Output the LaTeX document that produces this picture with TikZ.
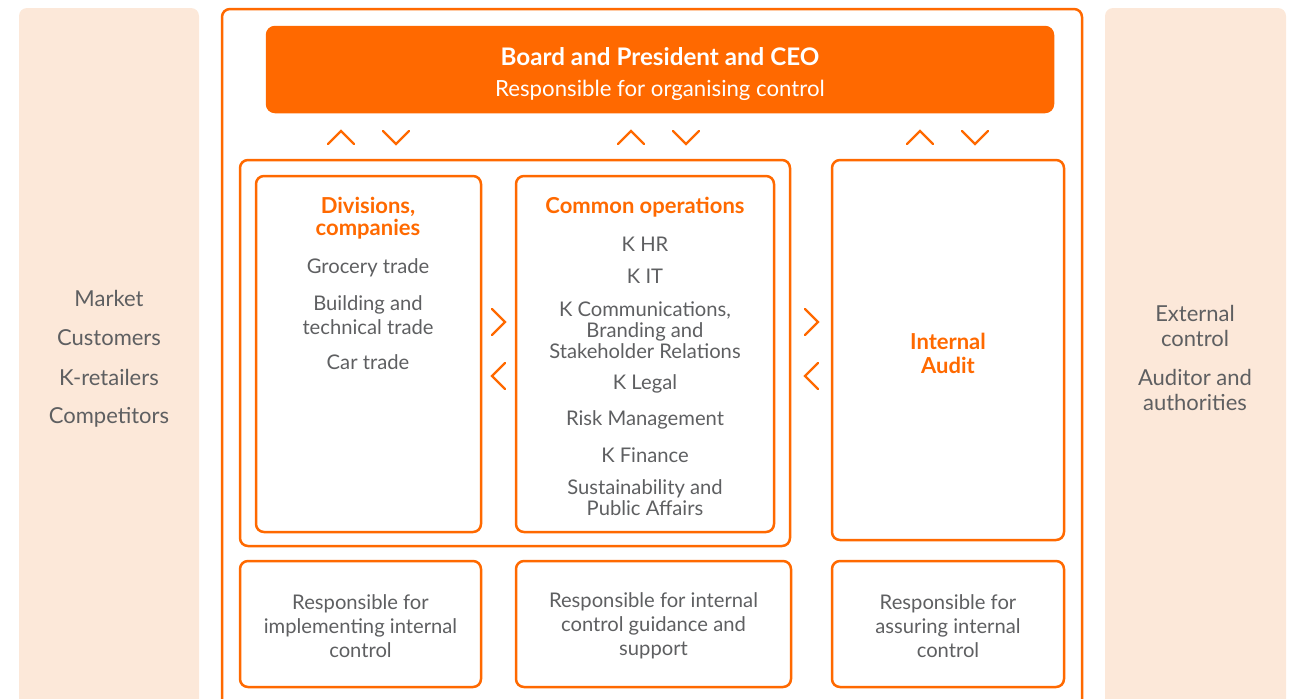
\documentclass[tikz,border=0pt]{standalone}
\usepackage{fontspec}
\setmainfont{Lato}
\definecolor{korange}{HTML}{FF6900}
\definecolor{kpeach}{HTML}{FCE8D9}
\definecolor{kgray}{HTML}{5E5F61}
\tikzset{
  box/.style={draw=korange, line width=1.25pt, rounded corners=4pt, inner sep=0pt},
  panel/.style={fill=kpeach, rounded corners=4pt, inner sep=0pt},
  txt/.style={text=kgray, align=center, font=\fontsize{10.1}{12}\selectfont},
  side/.style={text=kgray, align=center, font=\fontsize{11}{12.5}\selectfont},
  ttl/.style={text=korange, align=center, font=\bfseries\fontsize{11}{11}\selectfont},
  chev/.style={draw=korange, line width=1.2pt, line cap=round, line join=miter}
}
\begin{document}
\begin{tikzpicture}[x=0.5pt, y=-0.5pt]
\clip (0,0) rectangle (1291,698);
% side panels and frame
\node[panel, minimum width=90pt, minimum height=356pt] (leftpanel) at (109,364) {};
\node[panel, minimum width=90.5pt, minimum height=356pt] (rightpanel) at (1195.5,364) {};
\node[box, minimum width=430pt, minimum height=355.5pt] (frame) at (652,364.5) {};
% board
\node[box, fill=korange, minimum width=393pt, minimum height=42.5pt] (board) at (660,69.5) {};
\node[text=white, font=\bfseries\fontsize{12.1}{13}\selectfont] (boardtitle) at (660,57) {Board and President and CEO};
\node[text=white, font=\fontsize{11.1}{12}\selectfont] (boardsub) at (660,90) {Responsible for organising control};
% boxes
\node[box, minimum width=275pt, minimum height=193pt] (group) at (515,353) {};
\node[box, minimum width=112.5pt, minimum height=178pt] (div) at (368.5,354) {};
\node[box, minimum width=129pt, minimum height=178pt] (common) at (645,354) {};
\node[box, minimum width=116pt, minimum height=190pt] (audit) at (948,350) {};
\node[box, minimum width=120.5pt, minimum height=63pt] (implement) at (360.5,624) {};
\node[box, minimum width=137.5pt, minimum height=63pt] (guidance) at (653.5,624) {};
\node[box, minimum width=116pt, minimum height=63pt] (assure) at (948,624) {};
% chevrons
\foreach \x in {341,631,920}{
  \draw[chev] (\x-13,144) -- (\x,131) -- (\x+13,144);
  \draw[chev] (\x+42,131) -- (\x+55,144) -- (\x+68,131);
}
\foreach \x in {498,811}{
  \draw[chev] (\x-6,309) -- (\x+7,322) -- (\x-6,335);
  \draw[chev] (\x+7,363) -- (\x-6,376) -- (\x+7,389);
}
% texts left
\node[side] (market) at (109,298) {Market};
\node[side] (customers) at (109,338) {Customers};
\node[side] (retailers) at (109,377) {K-retailers};
\node[side] (competitors) at (109,417) {Competitors};
% texts right
\node[side] (external) at (1195,326) {External\\control};
\node[side] (auditor) at (1195,390) {Auditor and\\authorities};
% divisions
\node[ttl] (divtitle) at (368,218) {Divisions,\\companies};
\node[txt] (grocery) at (368,268) {Grocery trade};
\node[txt] (building) at (368,315) {Building and\\technical trade};
\node[txt] (car) at (368,362) {Car trade};
% common operations
\node[ttl] (commontitle) at (645,207) {Common operations};
\node[txt] (khr) at (645,244) {K HR};
\node[txt] (kit) at (645,276) {K IT};
\node[txt, font=\fontsize{10.1}{10.6}\selectfont] (kcomm) at (645,330) {K Communications,\\Branding and\\Stakeholder Relations};
\node[txt] (klegal) at (645,384) {K Legal};
\node[txt] (risk) at (645,420) {Risk Management};
\node[txt] (kfin) at (645,455) {K Finance};
\node[txt, font=\fontsize{10.1}{10.6}\selectfont] (sustain) at (645,498) {Sustainability and\\Public Affairs};
% internal audit
\node[ttl, font=\bfseries\fontsize{11}{12}\selectfont] (audittitle) at (948,353) {Internal\\Audit};
% bottom
\node[txt] (implementtext) at (360.5,626) {Responsible for\\implementing internal\\control};
\node[txt] (guidancetext) at (653.5,626) {Responsible for internal\\control guidance and\\support};
\node[txt] (assuretext) at (948,626) {Responsible for\\assuring internal\\control};
\end{tikzpicture}
\end{document}
